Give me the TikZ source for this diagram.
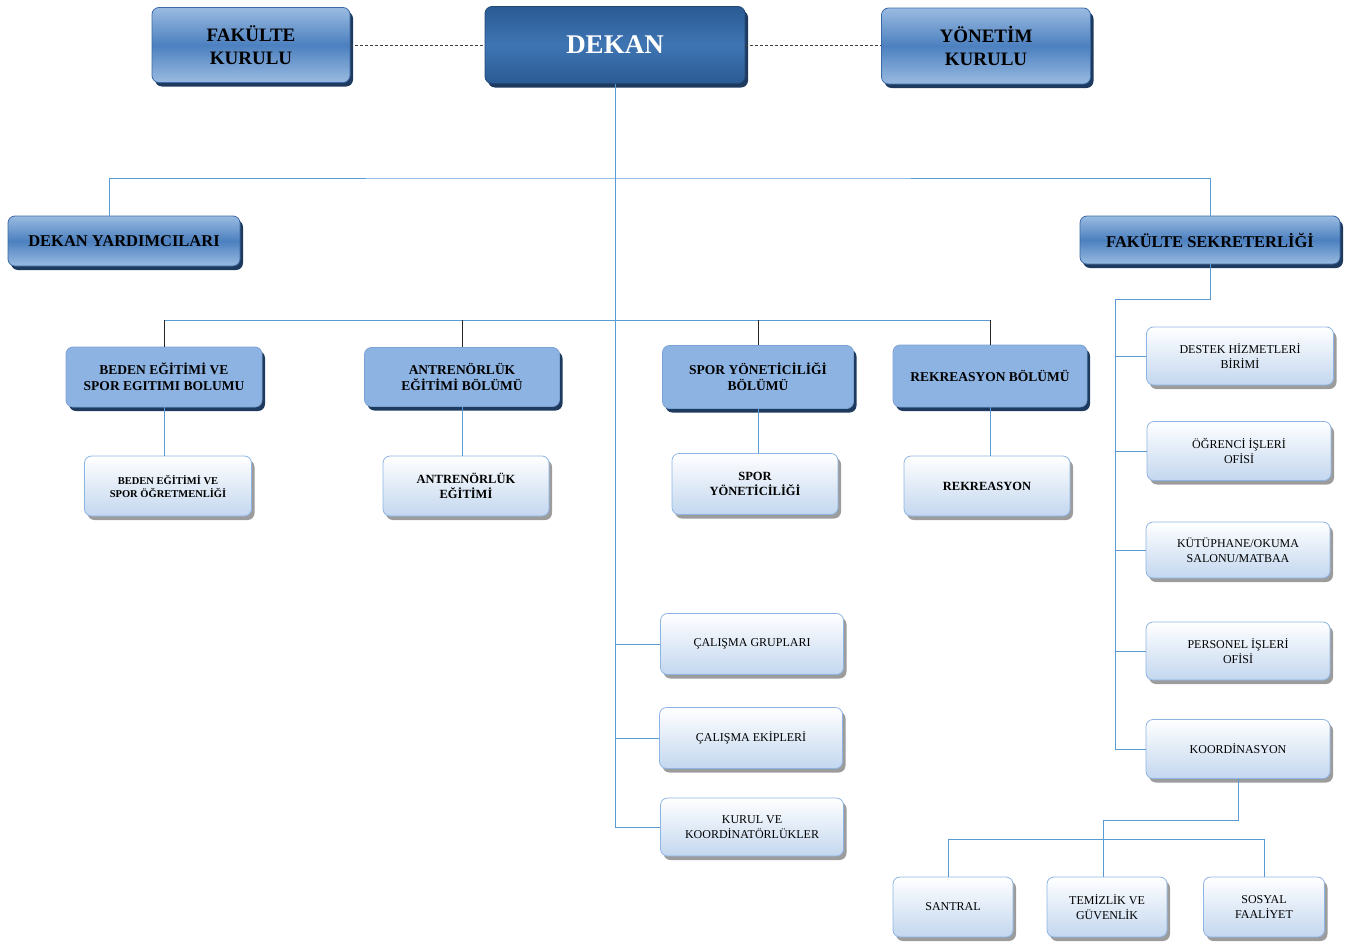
\documentclass[tikz,border=0pt]{standalone}
\usepackage{fontspec}
\setmainfont{Liberation Serif}
\usetikzlibrary{shadows}
\definecolor{tlight}{HTML}{9ABBE1}
\definecolor{tmid}{HTML}{4C80BF}
\definecolor{tborder}{HTML}{3A69A3}
\definecolor{tshadow}{HTML}{1E3A5E}
\definecolor{dkouter}{HTML}{2B5B94}
\definecolor{dkinner}{HTML}{3E75B3}
\definecolor{secfill}{HTML}{8DB3E2}
\definecolor{secborder}{HTML}{7AA2D3}
\definecolor{wbottom}{HTML}{C3D7EF}
\definecolor{wborder}{HTML}{8EB4E3}
\definecolor{wshadow}{HTML}{9C9C9C}
\definecolor{bline}{HTML}{5B9BD5}
\tikzset{
  basebox/.style={rounded corners=7pt, align=center, inner sep=2pt, line width=0.8pt},
  topbox/.style={basebox, draw=tborder, top color=tlight, bottom color=tlight, middle color=tmid,
    general shadow={shadow xshift=3pt, shadow yshift=-4pt, fill=tshadow}, font=\bfseries},
  dekanbox/.style={basebox, draw=dkouter!80!black, top color=dkouter, bottom color=dkouter, middle color=dkinner,
    general shadow={shadow xshift=3pt, shadow yshift=-4pt, fill=tshadow}, font=\bfseries\fontsize{27}{30}\selectfont, text=white},
  secbox/.style={basebox, draw=secborder, fill=secfill,
    general shadow={shadow xshift=3pt, shadow yshift=-4pt, fill=tshadow}, font=\bfseries\fontsize{13.5}{16}\selectfont},
  whitebox/.style={basebox, draw=wborder, top color=white, bottom color=wbottom,
    general shadow={shadow xshift=3pt, shadow yshift=-4pt, fill=wshadow}},
  wbold/.style={whitebox, font=\bfseries\fontsize{12.5}{15}\selectfont},
  wreg/.style={whitebox, font=\fontsize{12}{15}\selectfont},
  bluecon/.style={draw=bline, line width=1pt},
  darkcon/.style={draw=black!85, line width=1pt},
  dashcon/.style={draw=black!75, line width=1pt, dash pattern=on 3pt off 2pt},
}
\begin{document}
\begin{tikzpicture}[x=1pt,y=-1pt]
\useasboundingbox (0,0) rectangle (1349,945);
% top row
\node[topbox, minimum width=198, minimum height=75, font=\bfseries\fontsize{19}{23}\selectfont] (FK) at (251,45) {FAKÜLTE\\KURULU};
\node[dekanbox, minimum width=260, minimum height=77] (DEKAN) at (615,45) {DEKAN};
\node[topbox, minimum width=209, minimum height=76, font=\bfseries\fontsize{19}{23}\selectfont] (YK) at (986,46) {YÖNETİM\\KURULU};
% second row
\node[topbox, minimum width=232, minimum height=50, font=\bfseries\fontsize{16.5}{20}\selectfont] (DY) at (124,241) {DEKAN YARDIMCILARI};
\node[topbox, minimum width=260, minimum height=48, font=\bfseries\fontsize{16.5}{20}\selectfont] (FS) at (1210,240) {FAKÜLTE SEKRETERLİĞİ};
% departments
\node[secbox, minimum width=196, minimum height=60] (B1) at (164,377) {BEDEN EĞİTİMİ VE\\SPOR EGITIMI BOLUMU};
\node[secbox, minimum width=195, minimum height=59] (B2) at (462,377) {ANTRENÖRLÜK\\EĞİTİMİ BÖLÜMÜ};
\node[secbox, minimum width=191, minimum height=63] (B3) at (758,377) {SPOR YÖNETİCİLİĞİ\\BÖLÜMÜ};
\node[secbox, minimum width=194, minimum height=62] (B4) at (990,376) {REKREASYON BÖLÜMÜ};
% white dept boxes
\node[wbold, minimum width=167, minimum height=60, font=\bfseries\fontsize{10.5}{13}\selectfont] (W1) at (168,486) {BEDEN EĞİTİMİ VE\\SPOR ÖĞRETMENLİĞİ};
\node[wbold, minimum width=166, minimum height=60] (W2) at (466,486) {ANTRENÖRLÜK\\EĞİTİMİ};
\node[wbold, minimum width=166, minimum height=61] (W3) at (755,484) {SPOR\\YÖNETİCİLİĞİ};
\node[wbold, minimum width=166, minimum height=60] (W4) at (987,486) {REKREASYON};
% centre column
\node[wreg, minimum width=183, minimum height=61] (C1) at (752,644) {ÇALIŞMA GRUPLARI};
\node[wreg, minimum width=183, minimum height=61] (C2) at (751,738) {ÇALIŞMA EKİPLERİ};
\node[wreg, minimum width=183, minimum height=58] (C3) at (752,827) {KURUL VE\\KOORDİNATÖRLÜKLER};
% right column
\node[wreg, minimum width=187, minimum height=58] (R1) at (1240,356) {DESTEK HİZMETLERİ\\BİRİMİ};
\node[wreg, minimum width=184, minimum height=59] (R2) at (1239,451) {ÖĞRENCİ İŞLERİ\\OFİSİ};
\node[wreg, minimum width=184, minimum height=56] (R3) at (1238,550) {KÜTÜPHANE/OKUMA\\SALONU/MATBAA};
\node[wreg, minimum width=184, minimum height=58] (R4) at (1238,651) {PERSONEL İŞLERİ\\OFİSİ};
\node[wreg, minimum width=184, minimum height=59] (R5) at (1238,749) {KOORDİNASYON};
% bottom row
\node[wreg, minimum width=120, minimum height=60] (S1) at (953,907) {SANTRAL};
\node[wreg, minimum width=120, minimum height=60] (S2) at (1107,907) {TEMİZLİK VE\\GÜVENLİK};
\node[wreg, minimum width=121, minimum height=60] (S3) at (1264,907) {SOSYAL\\FAALİYET};

% coordinates
\coordinate (hTop) at (617,178);
\coordinate (hDept) at (617,320);
\coordinate (rBend) at (1115,299);
\coordinate (kBend) at (1103,820);
\coordinate (sBar) at (948,839);

% connectors
\draw[dashcon] (FK.east) -- (FK.east -| DEKAN.west);
\draw[dashcon] (DEKAN.east) -- (DEKAN.east -| YK.west);
\draw[bluecon] (DEKAN.south) -- (DEKAN.south |- C3.west);
\draw[bluecon] ([xshift=-15pt]DY.north) |- (hTop) -| (FS.north);
\draw[bluecon] (B1.north |- hDept) -- (B4.north |- hDept);
\draw[darkcon] (B1.north) -- (B1.north |- hDept);
\draw[darkcon] (B2.north) -- (B2.north |- hDept);
\draw[darkcon] (B3.north) -- (B3.north |- hDept);
\draw[darkcon] (B4.north) -- (B4.north |- hDept);
\draw[bluecon] (B1.south) -- (B1.south |- W1.north);
\draw[bluecon] (B2.south) -- (B2.south |- W2.north);
\draw[bluecon] (B3.south) -- (B3.south |- W3.north);
\draw[bluecon] (B4.south) -- (B4.south |- W4.north);
\draw[bluecon] (DEKAN.south |- C1.west) -- (C1.west);
\draw[bluecon] (DEKAN.south |- C2.west) -- (C2.west);
\draw[bluecon] (DEKAN.south |- C3.west) -- (C3.west);
\draw[bluecon] (FS.south) |- (rBend) -- (rBend |- R5.west) -- (R5.west);
\draw[bluecon] (rBend |- R1.west) -- (R1.west);
\draw[bluecon] (rBend |- R2.west) -- (R2.west);
\draw[bluecon] (rBend |- R3.west) -- (R3.west);
\draw[bluecon] (rBend |- R4.west) -- (R4.west);
\draw[bluecon] (R5.south) |- (kBend) -- (kBend |- S2.north);
\draw[bluecon] (sBar |- S1.north) -- (sBar) -- (sBar -| S3.north) -- (S3.north);
\end{tikzpicture}
\end{document}
